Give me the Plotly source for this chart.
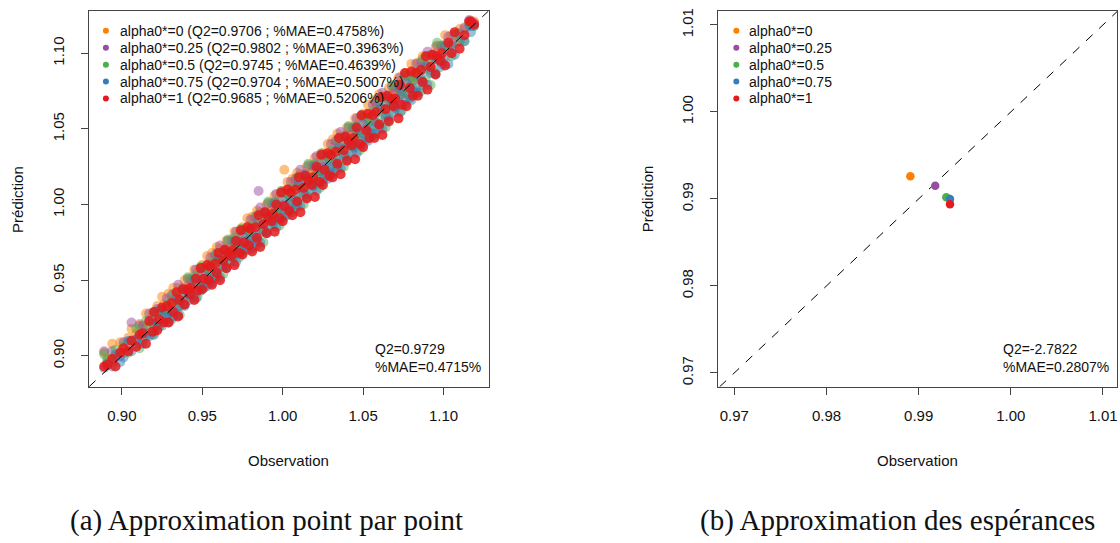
import plotly.graph_objects as go

W, H = 1120, 543

# ---------------- data: panel (a) point-by-point ----------------
observation = [
    0.889, 0.891, 0.894, 0.896, 0.899, 0.901, 0.904, 0.906, 0.909, 0.911,
    0.913, 0.915, 0.917, 0.919, 0.920, 0.922, 0.923, 0.925, 0.926, 0.928,
    0.929, 0.931, 0.932, 0.934, 0.935, 0.936, 0.938, 0.939, 0.941, 0.942,
    0.943, 0.945, 0.946, 0.947, 0.949, 0.950, 0.951, 0.953, 0.954, 0.955,
    0.956, 0.958, 0.959, 0.960, 0.961, 0.963, 0.964, 0.965, 0.966, 0.968,
    0.969, 0.970, 0.971, 0.973, 0.974, 0.975, 0.976, 0.978, 0.979, 0.980,
    0.981, 0.983, 0.984, 0.985, 0.986, 0.988, 0.989, 0.990, 0.991, 0.993,
    0.994, 0.995, 0.996, 0.998, 0.999, 1.000, 1.001, 1.003, 1.004, 1.005,
    1.006, 1.008, 1.009, 1.010, 1.011, 1.013, 1.014, 1.015, 1.016, 1.018,
    1.019, 1.020, 1.021, 1.023, 1.024, 1.025, 1.026, 1.028, 1.029, 1.030,
    1.031, 1.033, 1.034, 1.035, 1.036, 1.038, 1.039, 1.040, 1.041, 1.043,
    1.044, 1.045, 1.046, 1.048, 1.049, 1.050, 1.052, 1.053, 1.054, 1.056,
    1.057, 1.058, 1.060, 1.061, 1.062, 1.064, 1.065, 1.066, 1.068, 1.069,
    1.070, 1.072, 1.073, 1.074, 1.076, 1.077, 1.079, 1.080, 1.081, 1.083,
    1.084, 1.086, 1.087, 1.089, 1.090, 1.092, 1.093, 1.095, 1.096, 1.098,
    1.099, 1.101, 1.103, 1.105, 1.107, 1.110, 1.113, 1.116, 1.117, 1.119,
]

pred_alpha0 = [
    0.902, 0.898, 0.908, 0.900, 0.909, 0.902, 0.912, 0.918, 0.915, 0.921,
    0.919, 0.928, 0.920, 0.928, 0.920, 0.933, 0.928, 0.939, 0.934, 0.930,
    0.941, 0.937, 0.945, 0.937, 0.945, 0.936, 0.945, 0.950, 0.946, 0.951,
    0.948, 0.957, 0.948, 0.955, 0.948, 0.960, 0.955, 0.966, 0.961, 0.956,
    0.968, 0.964, 0.972, 0.963, 0.971, 0.963, 0.971, 0.976, 0.971, 0.977,
    0.974, 0.982, 0.973, 0.981, 0.973, 0.985, 0.980, 0.991, 0.986, 0.981,
    0.992, 0.988, 0.996, 0.987, 0.995, 0.987, 0.995, 1.000, 0.995, 1.001,
    0.998, 1.006, 0.997, 1.005, 0.997, 1.009, 1.023, 1.015, 1.010, 1.005,
    1.017, 1.013, 1.021, 1.012, 1.020, 1.012, 1.020, 1.025, 1.020, 1.026,
    1.023, 1.031, 1.022, 1.030, 1.022, 1.034, 1.029, 1.040, 1.035, 1.030,
    1.043, 1.039, 1.047, 1.037, 1.045, 1.037, 1.046, 1.051, 1.045, 1.051,
    1.048, 1.057, 1.047, 1.056, 1.047, 1.060, 1.055, 1.066, 1.060, 1.056,
    1.069, 1.064, 1.073, 1.063, 1.071, 1.063, 1.072, 1.077, 1.072, 1.077,
    1.074, 1.084, 1.074, 1.082, 1.074, 1.087, 1.082, 1.093, 1.087, 1.083,
    1.094, 1.091, 1.098, 1.092, 1.098, 1.092, 1.099, 1.104, 1.100, 1.105,
    1.104, 1.112, 1.105, 1.112, 1.107, 1.116, 1.116, 1.121, 1.121, 1.121,
]

pred_alpha025 = [
    0.903, 0.895, 0.903, 0.899, 0.900, 0.909, 0.909, 0.922, 0.911, 0.920,
    0.920, 0.913, 0.928, 0.922, 0.916, 0.931, 0.924, 0.930, 0.923, 0.938,
    0.928, 0.940, 0.926, 0.938, 0.947, 0.933, 0.944, 0.940, 0.951, 0.940,
    0.950, 0.943, 0.957, 0.949, 0.944, 0.958, 0.951, 0.958, 0.950, 0.965,
    0.955, 0.967, 0.953, 0.964, 0.973, 0.960, 0.970, 0.966, 0.976, 0.966,
    0.976, 0.968, 0.982, 0.975, 0.969, 0.983, 0.976, 0.983, 0.975, 0.990,
    0.979, 0.992, 0.976, 1.009, 0.998, 0.983, 0.994, 0.990, 1.001, 0.990,
    1.000, 0.991, 1.007, 0.999, 0.992, 1.008, 1.000, 1.007, 0.998, 1.015,
    1.004, 1.017, 1.001, 1.013, 1.023, 1.008, 1.019, 1.015, 1.026, 1.015,
    1.025, 1.016, 1.032, 1.024, 1.017, 1.033, 1.025, 1.032, 1.023, 1.040,
    1.029, 1.042, 1.026, 1.038, 1.048, 1.033, 1.044, 1.040, 1.051, 1.040,
    1.050, 1.041, 1.057, 1.049, 1.042, 1.058, 1.051, 1.057, 1.048, 1.066,
    1.055, 1.067, 1.052, 1.064, 1.074, 1.059, 1.070, 1.066, 1.078, 1.066,
    1.076, 1.068, 1.084, 1.075, 1.069, 1.085, 1.078, 1.084, 1.075, 1.093,
    1.083, 1.094, 1.081, 1.092, 1.101, 1.089, 1.098, 1.096, 1.105, 1.096,
    1.105, 1.098, 1.111, 1.106, 1.112, 1.108, 1.117, 1.122, 1.119, 1.120,
]

pred_alpha05 = [
    0.901, 0.897, 0.896, 0.904, 0.902, 0.907, 0.902, 0.910, 0.918, 0.905,
    0.911, 0.923, 0.919, 0.914, 0.929, 0.922, 0.919, 0.930, 0.930, 0.927,
    0.935, 0.924, 0.941, 0.932, 0.937, 0.927, 0.942, 0.934, 0.952, 0.942,
    0.939, 0.953, 0.947, 0.939, 0.959, 0.949, 0.945, 0.958, 0.957, 0.952,
    0.962, 0.951, 0.968, 0.958, 0.963, 0.954, 0.968, 0.960, 0.977, 0.968,
    0.965, 0.978, 0.972, 0.965, 0.984, 0.974, 0.970, 0.983, 0.982, 0.977,
    0.986, 0.972, 0.993, 0.980, 0.986, 0.975, 0.992, 0.982, 1.002, 0.991,
    0.987, 1.002, 0.995, 0.986, 1.009, 0.997, 0.992, 1.007, 1.005, 0.999,
    1.011, 0.997, 1.018, 1.005, 1.011, 1.000, 1.017, 1.007, 1.027, 1.016,
    1.012, 1.027, 1.020, 1.011, 1.034, 1.022, 1.017, 1.032, 1.030, 1.024,
    1.036, 1.022, 1.043, 1.030, 1.036, 1.025, 1.042, 1.032, 1.052, 1.041,
    1.037, 1.052, 1.045, 1.036, 1.059, 1.047, 1.043, 1.057, 1.055, 1.050,
    1.062, 1.047, 1.069, 1.056, 1.062, 1.051, 1.068, 1.058, 1.079, 1.067,
    1.063, 1.079, 1.072, 1.062, 1.086, 1.074, 1.070, 1.084, 1.082, 1.077,
    1.089, 1.075, 1.096, 1.084, 1.090, 1.079, 1.096, 1.087, 1.107, 1.096,
    1.095, 1.106, 1.103, 1.098, 1.113, 1.108, 1.108, 1.120, 1.118, 1.118,
]

pred_alpha075 = [
    0.892, 0.895, 0.893, 0.901, 0.896, 0.899, 0.910, 0.903, 0.911, 0.908,
    0.908, 0.915, 0.913, 0.924, 0.914, 0.920, 0.930, 0.920, 0.928, 0.925,
    0.922, 0.929, 0.926, 0.938, 0.927, 0.933, 0.944, 0.933, 0.942, 0.937,
    0.940, 0.951, 0.938, 0.948, 0.943, 0.954, 0.946, 0.946, 0.952, 0.949,
    0.948, 0.956, 0.953, 0.964, 0.952, 0.959, 0.970, 0.958, 0.966, 0.962,
    0.965, 0.976, 0.962, 0.973, 0.967, 0.979, 0.970, 0.970, 0.977, 0.974,
    0.971, 0.980, 0.976, 0.988, 0.975, 0.983, 0.995, 0.981, 0.991, 0.986,
    0.989, 1.001, 0.985, 0.998, 0.990, 1.003, 0.994, 0.993, 1.001, 0.997,
    0.995, 1.004, 1.000, 1.013, 0.999, 1.007, 1.020, 1.005, 1.015, 1.010,
    1.013, 1.026, 1.009, 1.022, 1.014, 1.028, 1.018, 1.017, 1.025, 1.021,
    1.020, 1.029, 1.025, 1.038, 1.024, 1.032, 1.045, 1.030, 1.040, 1.035,
    1.038, 1.051, 1.034, 1.047, 1.039, 1.053, 1.044, 1.042, 1.050, 1.047,
    1.046, 1.054, 1.051, 1.064, 1.050, 1.058, 1.071, 1.056, 1.067, 1.061,
    1.064, 1.078, 1.061, 1.073, 1.066, 1.080, 1.071, 1.069, 1.077, 1.074,
    1.074, 1.083, 1.079, 1.092, 1.079, 1.087, 1.099, 1.086, 1.096, 1.091,
    1.093, 1.105, 1.093, 1.105, 1.099, 1.113, 1.108, 1.118, 1.114, 1.118,
]

pred_alpha1 = [
    0.893, 0.894, 0.898, 0.893, 0.902, 0.905, 0.903, 0.910, 0.906, 0.914,
    0.915, 0.908, 0.923, 0.916, 0.929, 0.917, 0.924, 0.932, 0.922, 0.933,
    0.922, 0.935, 0.929, 0.942, 0.926, 0.937, 0.944, 0.934, 0.944, 0.941,
    0.945, 0.937, 0.951, 0.943, 0.958, 0.944, 0.951, 0.960, 0.950, 0.959,
    0.947, 0.961, 0.955, 0.968, 0.950, 0.963, 0.970, 0.958, 0.968, 0.966,
    0.970, 0.960, 0.976, 0.968, 0.983, 0.967, 0.975, 0.985, 0.973, 0.984,
    0.969, 0.985, 0.978, 0.993, 0.972, 0.987, 0.995, 0.981, 0.992, 0.989,
    0.994, 0.982, 1.000, 0.991, 1.008, 0.989, 0.999, 1.010, 0.996, 1.008,
    0.993, 1.010, 1.002, 1.018, 0.995, 1.011, 1.019, 1.004, 1.016, 1.013,
    1.018, 1.005, 1.025, 1.015, 1.033, 1.013, 1.023, 1.034, 1.019, 1.033,
    1.018, 1.035, 1.027, 1.044, 1.020, 1.036, 1.045, 1.029, 1.042, 1.039,
    1.044, 1.030, 1.051, 1.040, 1.059, 1.038, 1.049, 1.060, 1.044, 1.059,
    1.044, 1.061, 1.053, 1.071, 1.046, 1.063, 1.072, 1.055, 1.070, 1.065,
    1.070, 1.057, 1.079, 1.066, 1.087, 1.065, 1.077, 1.088, 1.072, 1.087,
    1.072, 1.089, 1.081, 1.098, 1.076, 1.091, 1.099, 1.086, 1.098, 1.095,
    1.100, 1.092, 1.107, 1.100, 1.114, 1.103, 1.112, 1.121, 1.121, 1.119,
]

# ---------------- data: panel (b) expectations ----------------
exp_observation = [0.9891, 0.9918, 0.9930, 0.9934, 0.9934]
exp_prediction = [0.9926, 0.9915, 0.9902, 0.9900, 0.9894]

series_names = ["alpha0*=0", "alpha0*=0.25", "alpha0*=0.5", "alpha0*=0.75", "alpha0*=1"]
series_q2 = ["0.9706", "0.9802", "0.9745", "0.9704", "0.9685"]
series_mae = ["0.4758%", "0.3963%", "0.4639%", "0.5007%", "0.5206%"]
colors = ["#FF7F00", "#984EA3", "#4DAF4A", "#377EB8", "#E41A1C"]
point_preds = [pred_alpha0, pred_alpha025, pred_alpha05, pred_alpha075, pred_alpha1]

global_a = ("0.9729", "0.4715%")
global_b = ("-2.7822", "0.2807%")

x_ticks_a = [0.90, 0.95, 1.00, 1.05, 1.10]
x_ticks_b = [0.97, 0.98, 0.99, 1.00, 1.01]
range_a = [0.8795, 1.128]
range_bx = [0.96827, 1.01152]
range_by = [0.9684, 1.0116]

captions = ["(a) Approximation point par point", "(b) Approximation des espérances"]

# ---------------- figure ----------------
def px(x):
    return x / W

def py(y):
    return 1 - y / H

SANS = "Liberation Sans, Arial, sans-serif"
SERIF = "Liberation Serif, Times New Roman, serif"
AXC = "#444444"
TXT = "#111111"

fig = go.Figure()

for name, preds, col in zip(series_names, point_preds, colors):
    fig.add_trace(go.Scatter(
        x=observation, y=preds, mode="markers", name=name,
        marker=dict(size=10, color=col, opacity=0.85 if col == "#E41A1C" else 0.5,
                    line=dict(width=0)),
        xaxis="x", yaxis="y", showlegend=False, hoverinfo="skip"))

for i, (name, col) in enumerate(zip(series_names, colors)):
    fig.add_trace(go.Scatter(
        x=[exp_observation[i]], y=[exp_prediction[i]], mode="markers", name=name,
        marker=dict(size=8.5, color=col, line=dict(width=0)),
        xaxis="x2", yaxis="y2", showlegend=False, hoverinfo="skip"))

yd = [py(386), py(8)]
axis_common = dict(showgrid=False, zeroline=False, showline=True, linecolor=AXC,
                   linewidth=1, mirror=True, ticks="outside", ticklen=7,
                   tickcolor=AXC, tickwidth=1,
                   tickfont=dict(family=SANS, size=15, color=TXT))

fig.update_layout(
    width=W, height=H, margin=dict(l=0, r=0, t=0, b=0),
    paper_bgcolor="white", plot_bgcolor="white",
    xaxis=dict(domain=[px(89), px(489)], range=range_a, tickvals=x_ticks_a,
               ticktext=[f"{v:.2f}" for v in x_ticks_a], anchor="y",
               ticklabelstandoff=8, **axis_common),
    yaxis=dict(domain=yd, range=range_a, tickvals=x_ticks_a,
               ticktext=[f"{v:.2f}" for v in x_ticks_a], tickangle=-90, anchor="x",
               ticklabelstandoff=11, **axis_common),
    xaxis2=dict(domain=[px(719), px(1118)], range=range_bx, tickvals=x_ticks_b,
                ticktext=[f"{v:.2f}" for v in x_ticks_b], anchor="y2",
                ticklabelstandoff=8, **axis_common),
    yaxis2=dict(domain=yd, range=range_by, tickvals=x_ticks_b,
                ticktext=[f"{v:.2f}" for v in x_ticks_b], tickangle=-90, anchor="x2",
                ticklabelstandoff=11, **axis_common),
)

shapes = []
shapes.append(dict(type="line", xref="x", yref="y", x0=range_a[0], y0=range_a[0],
                   x1=range_a[1], y1=range_a[1],
                   line=dict(color="black", width=1, dash="dash"), layer="above"))
lo = max(range_bx[0], range_by[0]); hi = min(range_bx[1], range_by[1])
shapes.append(dict(type="line", xref="x2", yref="y2", x0=lo, y0=lo, x1=hi, y1=hi,
                   line=dict(color="black", width=1, dash="dash"), layer="below"))

annotations = []
legend_rows = [28, 45, 62, 79, 96]
for i in range(5):
    for dotx, textx, label in [
        (106, 118, f"{series_names[i]} (Q2={series_q2[i]} ; %MAE={series_mae[i]})"),
        (737, 748, series_names[i]),
    ]:
        r = 3
        shapes.append(dict(type="circle", xref="paper", yref="paper",
                           x0=px(dotx - r), x1=px(dotx + r),
                           y0=py(legend_rows[i] + r), y1=py(legend_rows[i] - r),
                           fillcolor=colors[i], line=dict(width=0)))
        annotations.append(dict(xref="paper", yref="paper", x=px(textx), y=py(legend_rows[i]),
                                text=label, showarrow=False, xanchor="left", yanchor="middle",
                                font=dict(family=SANS, size=14, color=TXT)))

for x0, (q2, mae) in [(373, global_a), (1002, global_b)]:
    annotations.append(dict(xref="paper", yref="paper", x=px(x0), y=py(357),
                            text=f"Q2={q2}<br>%MAE={mae}", showarrow=False,
                            xanchor="left", yanchor="middle", align="left",
                            font=dict(family=SANS, size=14, color=TXT)))

for cx in [289, 918]:
    annotations.append(dict(xref="paper", yref="paper", x=px(cx), y=py(460),
                            text="Observation", showarrow=False, xanchor="center",
                            yanchor="middle", font=dict(family=SANS, size=15, color=TXT)))
for cx in [18, 648]:
    annotations.append(dict(xref="paper", yref="paper", x=px(cx), y=py(197),
                            text="Prédiction", showarrow=False, xanchor="center",
                            yanchor="middle", textangle=-90,
                            font=dict(family=SANS, size=15, color=TXT)))

for cx, cap in zip([267, 898], captions):
    annotations.append(dict(xref="paper", yref="paper", x=px(cx), y=py(520),
                            text=cap, showarrow=False, xanchor="center", yanchor="middle",
                            font=dict(family=SERIF, size=29, color=TXT)))

fig.update_layout(shapes=shapes, annotations=annotations)
fig.write_html("out.html", config={"displayModeBar": False},
               post_script="document.body.style.margin='0';document.body.style.overflow='hidden';")
